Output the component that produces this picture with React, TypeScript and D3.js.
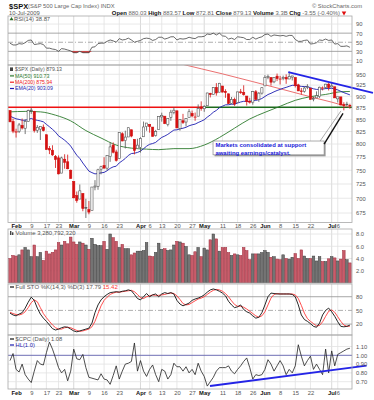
import React, { useEffect, useRef } from "react";
import * as d3 from "d3";

// $SPX daily, 29-Jan-2009 .. 10-Jul-2009
const dates = [
  "1/29", "1/30",
  "2/2", "2/3", "2/4", "2/5", "2/6", "2/9", "2/10", "2/11", "2/12", "2/13", "2/17", "2/18", "2/19", "2/20", "2/23", "2/24", "2/25", "2/26", "2/27",
  "3/2", "3/3", "3/4", "3/5", "3/6", "3/9", "3/10", "3/11", "3/12", "3/13", "3/16", "3/17", "3/18", "3/19", "3/20", "3/23", "3/24", "3/25", "3/26", "3/27", "3/30", "3/31",
  "4/1", "4/2", "4/3", "4/6", "4/7", "4/8", "4/9", "4/13", "4/14", "4/15", "4/16", "4/17", "4/20", "4/21", "4/22", "4/23", "4/24", "4/27", "4/28", "4/29", "4/30",
  "5/1", "5/4", "5/5", "5/6", "5/7", "5/8", "5/11", "5/12", "5/13", "5/14", "5/15", "5/18", "5/19", "5/20", "5/21", "5/22", "5/26", "5/27", "5/28", "5/29",
  "6/1", "6/2", "6/3", "6/4", "6/5", "6/8", "6/9", "6/10", "6/11", "6/12", "6/15", "6/16", "6/17", "6/18", "6/19", "6/22", "6/23", "6/24", "6/25", "6/26", "6/29", "6/30",
  "7/1", "7/2", "7/6", "7/7", "7/8", "7/9", "7/10",
];

const opens = [
  868.89, 845.69,
  823.09, 825.69, 837.77, 831.75, 846.09, 868.24, 866.87, 827.41, 829.91, 833.95, 818.61, 791.06, 787.91, 775.87, 773.25, 744.69, 770.64, 765.76, 749.93,
  729.57, 704.44, 698.6, 708.27, 684.04, 680.76, 679.28, 719.59, 720.89, 751.97, 758.84, 753.88, 776.01, 797.92, 784.58, 772.31, 820.6, 806.81, 814.06, 828.68, 809.07, 790.88,
  793.59, 814.53, 835.13, 839.75, 834.12, 816.76, 829.29, 855.33, 856.88, 839.44, 854.54, 865.18, 868.27, 831.25, 847.26, 844.62, 853.91, 862.82, 854.48, 856.85, 876.59,
  872.74, 879.21, 906.1, 903.95, 919.58, 909.03, 922.99, 910.52, 905.4, 884.24, 892.76, 886.07, 909.67, 908.62, 900.42, 888.68, 887.0, 909.95, 892.96, 907.02,
  923.26, 942.87, 942.51, 932.49, 945.67, 938.12, 940.35, 942.73, 939.04, 943.44, 942.45, 925.6, 911.89, 910.86, 919.96, 918.13, 893.46, 896.31, 899.45, 918.84, 919.86, 927.15,
  920.82, 921.24, 894.27, 898.6, 881.9, 881.28, 880.03,
];
const highs = [
  868.89, 851.66,
  830.78, 842.6, 851.85, 850.55, 870.75, 875.01, 868.05, 838.22, 835.48, 839.43, 818.61, 796.17, 797.58, 778.69, 777.85, 775.49, 780.12, 779.42, 751.27,
  729.57, 711.67, 724.12, 708.27, 699.09, 695.27, 719.6, 731.92, 752.63, 758.29, 774.53, 778.12, 803.04, 803.24, 788.91, 823.37, 823.65, 826.78, 832.98, 828.68, 809.07, 810.48,
  813.62, 845.61, 842.5, 839.75, 834.12, 828.42, 856.91, 864.31, 856.88, 852.93, 870.35, 875.63, 868.27, 850.09, 861.78, 852.87, 871.8, 868.83, 864.48, 882.06, 888.7,
  880.48, 907.85, 907.7, 920.28, 929.58, 930.17, 922.99, 915.57, 905.4, 898.36, 896.97, 910.0, 916.39, 924.6, 900.42, 896.65, 911.76, 913.84, 909.45, 920.02,
  947.77, 949.38, 942.51, 942.47, 951.69, 946.33, 946.92, 949.77, 956.23, 946.3, 942.45, 928.0, 918.44, 921.93, 927.09, 918.13, 898.69, 910.85, 921.42, 922.0, 927.99, 930.01,
  931.92, 921.24, 898.72, 898.6, 886.8, 887.86, 883.57,
];
const lows = [
  844.15, 821.67,
  812.87, 821.98, 829.18, 819.91, 845.42, 861.65, 822.99, 822.3, 808.06, 825.21, 789.17, 780.43, 777.03, 754.25, 742.37, 744.69, 752.89, 751.75, 734.52,
  699.7, 692.3, 698.6, 677.93, 666.79, 672.88, 679.28, 713.85, 714.76, 742.46, 753.37, 749.93, 765.64, 781.82, 766.2, 772.31, 805.48, 791.37, 814.06, 813.43, 779.81, 790.88,
  783.32, 814.53, 826.7, 822.79, 814.53, 814.84, 829.29, 845.35, 840.25, 835.58, 847.04, 860.87, 832.39, 826.83, 840.57, 835.45, 853.91, 854.65, 847.12, 856.85, 868.51,
  866.1, 879.21, 897.34, 903.95, 901.36, 909.03, 908.68, 896.46, 882.8, 882.52, 878.94, 886.07, 905.22, 901.37, 879.61, 883.75, 881.46, 891.87, 887.6, 903.56,
  923.26, 938.46, 923.85, 929.32, 934.13, 926.44, 936.15, 927.97, 939.04, 935.66, 919.65, 911.6, 903.78, 907.94, 915.8, 893.04, 888.86, 896.31, 896.27, 913.03, 916.18, 912.86,
  920.82, 896.42, 886.36, 879.93, 869.32, 878.45, 872.81,
];
const closes = [
  845.14, 825.88,
  825.44, 838.51, 832.23, 845.85, 868.6, 869.89, 827.16, 833.74, 835.19, 826.84, 789.17, 788.42, 778.94, 770.05, 743.33, 773.14, 764.9, 752.83, 735.09,
  700.82, 696.33, 712.87, 682.55, 683.38, 676.53, 719.6, 721.36, 750.74, 756.55, 753.89, 778.12, 794.35, 784.04, 768.54, 822.92, 806.12, 813.88, 832.86, 815.94, 787.53, 797.87,
  811.08, 834.38, 842.5, 835.48, 815.55, 825.16, 856.56, 858.73, 841.5, 852.06, 865.3, 869.6, 832.39, 850.08, 843.55, 851.92, 866.23, 857.51, 855.16, 873.64, 872.81,
  877.52, 907.24, 903.8, 919.53, 907.39, 929.23, 909.24, 908.35, 883.92, 893.07, 882.88, 909.71, 908.13, 903.47, 888.33, 887.0, 910.33, 893.06, 906.83, 919.14,
  942.87, 944.74, 931.76, 942.46, 940.09, 939.14, 942.43, 939.15, 944.89, 946.21, 923.72, 911.97, 910.71, 918.37, 921.23, 893.04, 895.1, 900.94, 920.26, 918.9, 927.23, 919.32,
  923.33, 896.42, 898.72, 881.03, 879.56, 882.68, 879.13,
];

// volume in billions
const volumes = [
  4.0, 4.5, 4.4, 4.6, 5.4, 5.8, 5.4, 4.3, 6.2, 4.3, 5.0, 3.7, 5.2, 4.75, 5.0, 5.4, 6.6, 6.2, 6.8, 6.4,
  7.5, 6.7, 6.3, 6.7, 6.5, 6.2, 5.5, 7.3, 6.3, 6.1, 6.1, 6.8, 5.5, 8.0, 7.4, 6.8, 5.8, 6.3, 5.6, 5.6,
  4.6, 4.9, 5.2, 5.2, 5.3, 6.6, 4.4, 4.3, 5.0, 6.5, 5.5, 5.6, 5.3, 5.4, 6.2, 6.8, 6.7, 6.5,
  5.95, 4.6, 4.5, 5.1, 5.8, 4.3, 5.7, 5.4, 7.05, 8.0, 7.2, 5.2, 5.8, 5.8, 4.97, 4.5, 4.75, 4.6, 4.5, 5.8,
  5.3, 3.8, 4.75, 4.75, 4.75, 4.97, 5.3, 5.0, 4.2, 4.3, 3.9, 3.8, 4.6, 4.0, 3.9, 4.2, 4.8, 4.0, 5.4, 4.4,
  4.0, 4.0, 4.4, 3.6, 4.3, 3.5, 3.5, 3.95, 4.3, 4.1, 3.6, 3.9, 5.3, 3.8, 3.28,
];

const ema20 = [
  857.0, 854.0, 851.3, 850.1, 848.4, 848.2, 850.1, 852.0, 849.6, 848.1, 846.9, 845.0, 839.7, 834.8, 829.5, 823.8, 816.2, 812.1, 807.6, 802.4, 796.0,
  786.9, 778.3, 772.1, 763.5, 755.9, 748.4, 745.6, 743.3, 744.0, 745.2, 746.0, 749.1, 753.4, 756.3, 757.5, 763.7, 767.7, 772.1, 777.9, 781.5, 782.1, 783.6,
  786.2, 790.8, 795.7, 799.5, 801.0, 803.3, 808.4, 813.2, 815.9, 819.3, 823.7, 828.1, 828.5, 830.5, 831.8, 833.7, 836.8, 838.8, 840.3, 843.5, 846.3,
  849.3, 854.8, 859.5, 865.2, 869.2, 874.9, 878.2, 881.1, 881.3, 882.5, 882.5, 885.1, 887.3, 888.8, 888.8, 888.6, 890.7, 890.9, 892.4, 895.0,
  899.5, 903.8, 906.5, 909.9, 912.8, 915.3, 917.9, 919.9, 922.3, 924.6, 924.5, 923.3, 922.1, 921.7, 921.7, 919.0, 916.7, 915.2, 915.7, 916.0, 917.1, 917.3,
  917.9, 915.8, 914.2, 911.0, 908.0, 905.6, 903.1,
];

// [bar index, value]
const ma50Pts = [
  [0, 866], [5, 867], [10, 866], [15, 859], [20, 847], [25, 827], [30, 812], [35, 798], [40, 792], [45, 790],
  [49, 789], [54, 791], [59, 791], [64, 798], [69, 813], [74, 832], [79, 851], [84, 865], [89, 878], [94, 891],
  [99, 899], [104, 904], [109, 910], [112, 910.7],
];
const ma200Pts = [
  [55, 977], [63, 963], [70, 951], [80, 933], [90, 915], [100, 897], [106, 887], [112, 875.9],
];

const rsi = [
  48, 44, 44, 47, 46, 49, 54, 55, 45, 46, 47, 45, 37, 37, 35, 34, 30, 36, 35, 33,
  31, 27, 27, 30, 27, 27, 27, 39, 40, 47, 48, 48, 52, 55, 53, 50, 58, 55, 56, 59,
  55, 50, 52, 54, 58, 59, 58, 54, 56, 61, 61, 57, 59, 62, 62, 55, 58, 57, 58, 61,
  59, 58, 62, 62, 63, 68, 67, 70, 66, 70, 64, 63, 57, 59, 56, 62, 61, 60, 56, 56,
  61, 57, 60, 62, 67, 68, 63, 66, 65, 64, 65, 63, 65, 65, 56, 52, 52, 54, 55, 46,
  47, 49, 55, 54, 57, 54, 55, 46, 47, 41, 41, 42, 38.87,
];

const stoK = [
  44, 40, 38, 42, 45, 55, 68, 79, 72, 55, 42, 33, 26, 18, 10, 7, 9, 12, 14, 13,
  9, 5, 3, 5, 7, 9, 11, 22, 45, 62, 73, 80, 85, 89, 90, 91, 90, 92, 93, 95,
  93, 85, 76, 73, 80, 87, 80, 84, 86, 80, 86, 89, 87, 89, 86, 72, 64, 60, 63, 66,
  72, 75, 77, 80, 84, 90, 95, 97, 95, 92, 88, 82, 70, 62, 56, 58, 62, 52, 47, 44,
  38, 33, 35, 45, 62, 80, 88, 87, 86, 86, 86, 86, 86, 85, 80, 62, 40, 30, 26, 21,
  15, 13, 22, 40, 50, 55, 47, 37, 25, 15, 14, 15, 17.79,
];
const stoD = [
  46, 43, 41, 40, 42, 47, 56, 67, 73, 69, 56, 43, 34, 26, 18, 12, 9, 9, 12, 13,
  12, 9, 6, 4, 5, 7, 9, 14, 26, 43, 60, 72, 79, 85, 88, 90, 90, 91, 92, 93,
  94, 91, 85, 78, 76, 80, 82, 84, 83, 83, 84, 85, 87, 88, 87, 82, 74, 65, 62, 63,
  67, 71, 75, 77, 80, 85, 90, 94, 96, 95, 92, 87, 80, 71, 63, 59, 59, 57, 53, 48,
  43, 38, 35, 38, 47, 62, 77, 85, 87, 86, 86, 86, 86, 86, 84, 76, 61, 44, 32, 26,
  21, 16, 17, 25, 37, 48, 51, 46, 36, 26, 18, 15, 15.42,
];

const cpc = [
  0.94, 1.02, 0.84, 0.81, 0.9, 0.78, 0.73, 0.69, 0.82, 0.94, 0.9, 0.89, 1.03, 1.15, 1.07, 0.97, 0.86, 0.8, 0.84, 0.71,
  0.82, 1.07, 0.96, 0.95, 1.01, 0.86, 0.75, 0.74, 0.73, 0.72, 0.79, 0.73, 0.72, 0.67, 0.77, 0.88, 0.73, 0.82, 0.9, 0.91,
  0.93, 1.14, 0.82, 0.94, 0.82, 0.76, 0.84, 0.89, 0.78, 0.7, 0.84, 0.82, 0.73, 0.78, 0.91, 0.87, 0.87, 0.82, 0.87, 0.8,
  0.84, 0.78, 0.91, 0.82, 0.76, 0.65, 0.7, 0.75, 0.82, 0.86, 0.86, 0.86, 0.88, 0.82, 0.79, 0.84, 0.88, 0.93, 0.97, 0.86,
  0.73, 0.78, 0.77, 0.78, 0.84, 0.95, 0.9, 0.82, 0.88, 0.94, 0.88, 0.78, 0.84, 0.8, 0.88, 1.12, 0.99, 0.88, 0.94, 0.99,
  0.84, 0.9, 0.84, 0.78, 1.07, 0.8, 1.05, 0.88, 1.01, 1.03, 1.05, 1.07, 1.08,
];

const tickDates = ["2/2", "2/9", "2/17", "2/23", "3/2", "3/9", "3/16", "3/23", "4/1", "4/6", "4/13", "4/20", "4/27", "5/1", "5/11", "5/18", "5/26", "6/1", "6/8", "6/15", "6/22", "7/1", "7/6"];
const tickLabels = ["Feb", "9", "17", "23", "Mar", "9", "16", "23", "Apr", "6", "13", "20", "27", "May", "11", "18", "26", "Jun", "8", "15", "22", "Jul", "6"];
const monthLabels = ["Feb", "Mar", "Apr", "May", "Jun", "Jul"];

const priceTicks = [950, 925, 900, 875, 850, 825, 800, 775, 750, 725, 700, 675];
const rsiTicks = [90, 70, 50, 30, 10];
const volTicks = [8, 6, 4, 2];
const stoTicks = [80, 50, 20];
const cpcTicks = [1.1, 1.0, 0.9, 0.8, 0.7];

// drawn annotations, in (bar index, value) terms
const supportLevel = 876;
const supportSplit = 63.6;
const priceTrend = [[91.7, 955], [119.6, 907.6]];
const cpcTrend = [[65.9, 0.651], [117.5, 0.883]];
const noteLines = ["Markets consolidated at support", "awaiting earnings/catalyst."];
const noteBox = { i0: 66.9, i1: 103.5, top: 806, bottom: 779, tipI: 109.4, tipP: 866 };

const quote = [
  ["Open", "880.03"], ["High", "883.57"], ["Low", "872.81"], ["Close", "879.13"], ["Volume", "3.3B"], ["Chg", "-3.55 (-0.40%)"],
];

const App = () => {
  const svgRef = useRef(null);

  useEffect(() => {
    const svg = d3.select(svgRef.current);
    svg.selectAll("*").remove();

    const font = "'Liberation Sans', Arial, Helvetica, sans-serif";
    const L = 8;
    const R = 352;
    const n = dates.length;
    const x = d3.scaleLinear().domain([0, n - 1]).range([10, 349.9]);
    const tickIdx = tickDates.map((d) => dates.indexOf(d));

    const panels = {
      rsi: [16, 65],
      price: [65, 222.5],
      vol: [229, 283],
      sto: [284, 335],
      cpc: [335, 389],
    };

    const yRsi = d3.scaleLinear().domain([0, 100]).range([65, 19.5]);
    const yPrice = d3.scaleLog().domain([675, 950]).range([213, 74.3]);
    const yVol = d3.scaleLinear().domain([0, 8]).range([283, 234]);
    const ySto = d3.scaleLinear().domain([0, 100]).range([333.2, 287.6]);
    const yCpc = d3.scaleLinear().domain([0.7, 1.1]).range([381.7, 346.5]);

    svg.append("rect").attr("width", 374).attr("height", 400).attr("fill", "#fff");

    const defs = svg.append("defs");
    Object.entries(panels).forEach(([k, [t, b]]) => {
      defs.append("clipPath").attr("id", "clip-" + k)
        .append("rect").attr("x", L).attr("y", t).attr("width", R - L).attr("height", b - t);
    });

    // panel backgrounds and vertical grid
    Object.entries(panels).forEach(([k, [t, b]]) => {
      svg.append("rect").attr("x", L).attr("y", t).attr("width", R - L).attr("height", b - t).attr("fill", "#fff");
      svg.append("g").selectAll("line").data(tickIdx).join("line")
        .attr("x1", (d) => x(d)).attr("x2", (d) => x(d))
        .attr("y1", t).attr("y2", b)
        .attr("stroke", (d, k2) => (monthLabels.includes(tickLabels[k2]) ? "#cfcfcf" : "#e2e2e2"))
        .attr("stroke-width", 0.8);
    });

    const hGrid = (ticks, y, color = "#e2e2e2") => {
      svg.append("g").selectAll("line").data(ticks).join("line")
        .attr("x1", L).attr("x2", R)
        .attr("y1", (d) => y(d)).attr("y2", (d) => y(d))
        .attr("stroke", color).attr("stroke-width", 0.8);
    };
    hGrid(priceTicks, yPrice);
    hGrid([90, 10], yRsi);
    hGrid(volTicks, yVol);
    hGrid([1.1, 0.9, 0.8, 0.7], yCpc);

    const refLine = (y, v, color, dash, w = 0.8) => {
      svg.append("line").attr("x1", L).attr("x2", R).attr("y1", y(v)).attr("y2", y(v))
        .attr("stroke", color).attr("stroke-width", w).attr("stroke-dasharray", dash || null);
    };
    refLine(yRsi, 70, "#909090");
    refLine(yRsi, 30, "#909090");
    refLine(yRsi, 50, "#9a9a9a", "5,2,1,2");
    refLine(ySto, 80, "#909090");
    refLine(ySto, 20, "#909090");
    refLine(ySto, 50, "#9a9a9a", "5,2,1,2");
    refLine(yCpc, 1.0, "#6f6fb5", null, 1);

    // RSI
    const gR = svg.append("g").attr("clip-path", "url(#clip-rsi)");
    gR.append("path").datum(rsi)
      .attr("d", d3.area().x((d, i) => x(i)).y0(yRsi(30)).y1((d) => yRsi(Math.min(d, 30))))
      .attr("fill", "#d02020");
    gR.append("path").datum(rsi)
      .attr("d", d3.line().x((d, i) => x(i)).y((d) => yRsi(d)))
      .attr("fill", "none").attr("stroke", "#444").attr("stroke-width", 0.8);

    // price panel
    const gP = svg.append("g").attr("clip-path", "url(#clip-price)");
    gP.append("line").attr("x1", L).attr("x2", x(supportSplit))
      .attr("y1", yPrice(supportLevel)).attr("y2", yPrice(supportLevel))
      .attr("stroke", "#ee1111").attr("stroke-width", 1.4);
    gP.append("line").attr("x1", x(supportSplit)).attr("x2", R)
      .attr("y1", yPrice(supportLevel)).attr("y2", yPrice(supportLevel))
      .attr("stroke", "#1d6a1d").attr("stroke-width", 1.6);

    const ptLine = d3.line().curve(d3.curveMonotoneX).x((d) => x(d[0])).y((d) => yPrice(d[1]));
    gP.append("path").datum(ma200Pts).attr("d", ptLine)
      .attr("fill", "none").attr("stroke", "#e86060").attr("stroke-width", 0.9);
    gP.append("path").datum(ma50Pts).attr("d", ptLine)
      .attr("fill", "none").attr("stroke", "#2c7a2c").attr("stroke-width", 0.9);
    gP.append("path").datum(ema20)
      .attr("d", d3.line().x((d, i) => x(i)).y((d) => yPrice(d)))
      .attr("fill", "none").attr("stroke", "#1c1cb0").attr("stroke-width", 0.9);

    closes.forEach((c, i) => {
      const o = opens[i];
      const prev = i > 0 ? closes[i - 1] : o;
      const col = c < prev ? "#d41010" : "#555";
      const xc = x(i);
      gP.append("line").attr("x1", xc).attr("x2", xc)
        .attr("y1", yPrice(highs[i])).attr("y2", yPrice(lows[i]))
        .attr("stroke", col).attr("stroke-width", 0.8);
      const top = yPrice(Math.max(o, c));
      const bot = yPrice(Math.min(o, c));
      gP.append("rect").attr("x", xc - 1.1).attr("width", 2.2)
        .attr("y", top).attr("height", Math.max(bot - top, 0.6))
        .attr("fill", c >= o ? "#fff" : col)
        .attr("stroke", col).attr("stroke-width", 0.6);
    });

    // blue resistance trendline
    svg.append("line")
      .attr("x1", x(priceTrend[0][0])).attr("y1", yPrice(priceTrend[0][1]))
      .attr("x2", x(priceTrend[1][0])).attr("y2", yPrice(priceTrend[1][1]))
      .attr("stroke", "#2424e6").attr("stroke-width", 1.8);

    // callout
    const bx0 = x(noteBox.i0), bx1 = x(noteBox.i1);
    const by0 = yPrice(noteBox.top), by1 = yPrice(noteBox.bottom);
    svg.append("rect").attr("x", bx0 + 1.5).attr("y", by0 + 1.5).attr("width", bx1 - bx0).attr("height", by1 - by0)
      .attr("fill", "#9a9a9a");
    svg.append("rect").attr("x", bx0).attr("y", by0).attr("width", bx1 - bx0).attr("height", by1 - by0)
      .attr("fill", "#fff").attr("stroke", "#8a8a8a").attr("stroke-width", 0.7);
    svg.append("line").attr("x1", bx1 - 4).attr("y1", by0)
      .attr("x2", x(noteBox.tipI) - 1).attr("y2", yPrice(noteBox.tipP) - 1)
      .attr("stroke", "#8a8a8a").attr("stroke-width", 0.7);
    svg.append("line").attr("x1", bx1).attr("y1", by0 + 3)
      .attr("x2", x(noteBox.tipI) + 1).attr("y2", yPrice(noteBox.tipP) + 1.5)
      .attr("stroke", "#111").attr("stroke-width", 1.4);
    noteLines.forEach((s, k) => {
      svg.append("text").attr("x", bx0 + 2.5).attr("y", by0 + 6.3 + k * 7.2).text(s)
        .attr("font-family", font).attr("font-size", 5.9).attr("font-weight", "bold").attr("fill", "#1818d8");
    });

    // volume
    const gV = svg.append("g").attr("clip-path", "url(#clip-vol)");
    gV.selectAll("rect").data(volumes).join("rect")
      .attr("x", (d, i) => x(i) - 1.3).attr("width", 2.6)
      .attr("y", (d) => yVol(d)).attr("height", (d) => yVol(0) - yVol(d))
      .attr("fill", (d, i) => (closes[i] < (i > 0 ? closes[i - 1] : opens[i]) ? "#c85c6a" : "#747474"))
      .attr("stroke", (d, i) => (closes[i] < (i > 0 ? closes[i - 1] : opens[i]) ? "#9c2c3c" : "#3c3c3c"))
      .attr("stroke-width", 0.5);

    // stochastics
    const gS = svg.append("g").attr("clip-path", "url(#clip-sto)");
    gS.append("path").datum(stoD).attr("d", d3.line().x((d, i) => x(i)).y((d) => ySto(d)))
      .attr("fill", "none").attr("stroke", "#ff3a3a").attr("stroke-width", 0.9);
    gS.append("path").datum(stoK).attr("d", d3.line().x((d, i) => x(i)).y((d) => ySto(d)))
      .attr("fill", "none").attr("stroke", "#111").attr("stroke-width", 0.9);

    // put/call ratio
    const gC = svg.append("g").attr("clip-path", "url(#clip-cpc)");
    gC.append("path").datum(cpc).attr("d", d3.line().x((d, i) => x(i)).y((d) => yCpc(d)))
      .attr("fill", "none").attr("stroke", "#222").attr("stroke-width", 0.8);
    svg.append("line")
      .attr("x1", x(cpcTrend[0][0])).attr("y1", yCpc(cpcTrend[0][1]))
      .attr("x2", x(cpcTrend[1][0])).attr("y2", yCpc(cpcTrend[1][1]))
      .attr("stroke", "#2424e6").attr("stroke-width", 1.8);

    // panel borders
    Object.values(panels).forEach(([t, b]) => {
      svg.append("rect").attr("x", L).attr("y", t).attr("width", R - L).attr("height", b - t)
        .attr("fill", "none").attr("stroke", "#a8a8a8").attr("stroke-width", 0.8);
    });

    // right axes
    const rightAxis = (y, ticks, fmt) => {
      const g = svg.append("g").attr("transform", `translate(${R},0)`)
        .call(d3.axisRight(y).tickValues(ticks).tickSize(0).tickPadding(4).tickFormat(fmt));
      g.select(".domain").remove();
      g.selectAll("text").attr("font-family", font).attr("font-size", 5.8).attr("fill", "#555");
    };
    rightAxis(yRsi, rsiTicks, d3.format("d"));
    rightAxis(yPrice, priceTicks, d3.format("d"));
    rightAxis(yVol, volTicks, d3.format(".1f"));
    rightAxis(ySto, stoTicks, d3.format("d"));
    rightAxis(yCpc, cpcTicks, d3.format(".2f"));

    // date axes
    [[222.5, 1.2], [389, 2.2]].forEach(([yy, pad]) => {
      const g = svg.append("g").attr("transform", `translate(0,${yy})`)
        .call(d3.axisBottom(x).tickValues(tickIdx).tickSize(0).tickPadding(pad)
          .tickFormat((d, k) => tickLabels[k]));
      g.select(".domain").remove();
      g.selectAll("text").attr("font-family", font).attr("font-size", 5.8)
        .attr("font-weight", (d, k) => (monthLabels.includes(tickLabels[k]) ? "bold" : "normal"))
        .attr("fill", (d, k) => (monthLabels.includes(tickLabels[k]) ? "#111" : "#555"));
    });

    // header
    const txt = (xx, yy, s, size, fill, weight = "normal", anchor = "start") =>
      svg.append("text").attr("x", xx).attr("y", yy).text(s)
        .attr("font-family", font).attr("font-size", size).attr("fill", fill)
        .attr("font-weight", weight).attr("text-anchor", anchor);

    txt(9, 8.5, "$SPX", 7.5, "#111", "bold");
    txt(28, 8.2, "(S&P 500 Large Cap Index) INDX", 5.8, "#666");
    txt(362, 8.2, "© StockCharts.com", 5.8, "#666", "normal", "end");
    txt(9, 14.6, "10-Jul-2009", 5.8, "#555");
    const hdr = svg.append("text").attr("x", 340).attr("y", 14.6).attr("text-anchor", "end")
      .attr("font-family", font).attr("font-size", 5.9);
    quote.forEach(([k, v]) => {
      hdr.append("tspan").text(k + " ").attr("font-weight", "bold").attr("fill", "#111");
      hdr.append("tspan").text(v + " ").attr("fill", "#666");
    });
    svg.append("path").attr("d", d3.symbol(d3.symbolTriangle, 9)())
      .attr("transform", "translate(344,12.8) rotate(180)").attr("fill", "#e01010");

    // legends
    svg.append("path").attr("d", d3.symbol(d3.symbolTriangle, 7)())
      .attr("transform", "translate(11.5,19.2)").attr("fill", "#2a6a2a");
    txt(14, 21, "RSI(14) 38.87", 5.8, "#555");

    svg.append("rect").attr("x", 10).attr("y", 67.4).attr("width", 3).attr("height", 3.6).attr("fill", "#444");
    txt(15, 71.2, "$SPX (Daily) 879.13", 5.2, "#555");
    [["MA(50) 910.73", "#2c7a2c"], ["MA(200) 875.94", "#ee2020"], ["EMA(20) 903.09", "#1c1cb0"]].forEach(([s, c], k) => {
      const yy = 77.6 + k * 6.3;
      svg.append("line").attr("x1", 10).attr("x2", 14).attr("y1", yy - 1.7).attr("y2", yy - 1.7)
        .attr("stroke", c).attr("stroke-width", 1.2);
      txt(15, yy, s, 5.2, c);
    });

    svg.append("rect").attr("x", 10).attr("y", 231).attr("width", 1.4).attr("height", 4).attr("fill", "#444");
    svg.append("rect").attr("x", 12).attr("y", 232.3).attr("width", 1.4).attr("height", 2.7).attr("fill", "#444");
    txt(15.5, 235.2, "Volume 3,280,792,320", 6, "#555");

    svg.append("line").attr("x1", 10).attr("x2", 14).attr("y1", 287).attr("y2", 287).attr("stroke", "#111").attr("stroke-width", 1.2);
    const sl = txt(15.5, 289, "Full STO %K(14,3) %D(3) 17.79 ", 6, "#555");
    sl.append("tspan").text("15.42").attr("fill", "#ff3a3a");

    svg.append("line").attr("x1", 10).attr("x2", 14).attr("y1", 339).attr("y2", 339).attr("stroke", "#111").attr("stroke-width", 1.2);
    txt(15.5, 341, "$CPC (Daily) 1.08", 5.8, "#555");
    svg.append("line").attr("x1", 10).attr("x2", 14).attr("y1", 345).attr("y2", 345).attr("stroke", "#1c1cb0").attr("stroke-width", 1.2);
    txt(15.5, 347, "HL(1.0)", 5.8, "#1c1cb0");
  }, []);

  return (
    <svg
      ref={svgRef}
      width={374}
      height={400}
      style={{ position: "absolute", left: 0, top: 0, display: "block" }}
    />
  );
};

export default App;
